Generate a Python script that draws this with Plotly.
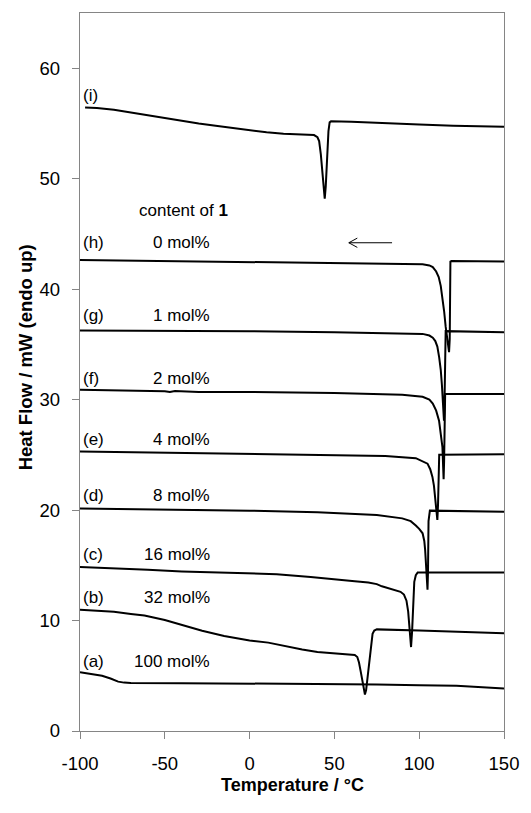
import plotly.graph_objects as go

# ---------------- data ----------------
T_a = [-100, -92, -87, -82, -77.5, -74, -70, -40, 0, 40, 75, 100, 122, 150]
Y_a = [5.33, 5.15, 5.0, 4.75, 4.47, 4.38, 4.35, 4.33, 4.3, 4.28, 4.22, 4.15, 4.1, 3.85]

T_b = [-100, -90, -80, -70, -62, -50, -40, -28, -15, 0, 11, 20, 31, 40, 50, 62, 63.5, 64.5, 65.5,
       66.5, 67.3, 68.0, 68.7, 69.5, 70.5, 71.5, 72.5, 73.5, 75, 100, 125, 150]
Y_b = [10.97, 10.9, 10.8, 10.6, 10.45, 10.05, 9.6, 9.07, 8.6, 8.2, 8.0, 7.7, 7.38, 7.15, 7.0, 6.88, 6.7, 6.2, 5.4,
       4.4, 3.7, 3.3, 3.7, 4.8, 6.5, 8.0, 8.8, 9.1, 9.2, 9.1, 9.0, 8.85]

T_c = [-100, -80, -60, -40, -20, 0, 16, 36, 46, 55, 62, 70, 75, 78, 81, 86, 89, 91, 92.5, 93.5, 94.3,
       95.2, 95.8, 96.4, 97.1, 98, 99.1, 150]
Y_c = [14.85, 14.75, 14.6, 14.45, 14.35, 14.25, 14.2, 13.95, 13.8, 13.6, 13.55, 13.45, 13.3, 13.1, 12.95, 12.75,
       12.6, 12.35, 11.8, 10.8, 9.0, 7.6, 9.0, 11.5, 13.5, 14.1, 14.35, 14.35]

T_d = [-100, -50, 0, 40, 75, 90, 95, 98, 100, 102, 103, 103.5, 104.2, 104.9, 105.2, 105.5, 106.3, 150]
Y_d = [20.15, 20.05, 19.95, 19.8, 19.55, 19.25, 19.0, 18.6, 18.3, 17.9, 17.2, 16.4, 14.5, 12.8, 14.5, 19.0,
       19.95, 19.85]

T_e = [-100, -50, 0, 50, 80, 98, 102, 104.9, 106.5, 107.8, 108.7, 109.3, 110.0, 110.7, 111.1, 111.5, 111.8, 150]
Y_e = [25.3, 25.2, 25.1, 25.0, 24.9, 24.7, 24.45, 24.2, 23.7, 23.0, 22.2, 21.2, 20.0, 19.1, 20.5, 23.5, 25.0, 25.05]

T_f = [-100, -60, -50, -47, -44, -30, -10, 0, 50, 90, 102, 106, 108, 110, 111.7, 112.8, 113.7, 114.1,
       114.4, 114.7, 115.0, 115.3, 150]
Y_f = [30.9, 30.8, 30.75, 30.68, 30.78, 30.7, 30.7, 30.7, 30.6, 30.45, 30.25, 30.0, 29.65, 29.0, 28.1, 27.0,
       25.7, 24.0, 22.8, 24.5, 28.0, 30.5, 30.5]

T_g = [-100, -50, 0, 50, 90, 102, 106, 108, 109.5, 110.7, 111.8, 112.7, 113.4, 114.0, 114.4, 114.6, 114.9,
       115.2, 115.6, 150]
Y_g = [36.25, 36.25, 36.2, 36.1, 36.0, 35.95, 35.8, 35.6, 35.3, 34.8, 33.8, 32.7, 31.3, 30.0, 28.8, 28.1, 29.5,
       33.0, 36.2, 36.1]

T_h = [-100, -50, 0, 50, 90, 102, 106, 108, 110, 111.5, 112.7, 113.7, 114.7, 115.6, 116.5, 117.2, 117.6,
       118.0, 118.2, 118.4, 119, 150]
Y_h = [42.65, 42.55, 42.5, 42.4, 42.3, 42.25, 42.15, 42.0, 41.6, 41.1, 40.3, 39.3, 38.0, 36.6, 35.3, 34.5, 34.3,
       35.5, 39.0, 42.5, 42.55, 42.5]

T_i = [-97, -90, -80, -70, -60, -50, -40, -30, -20, -10, 0, 10, 20, 30, 38, 40, 41, 42, 43, 43.8, 44.3,
       44.9, 45.7, 46.5, 47.2, 48, 60, 80, 100, 120, 150]
Y_i = [56.45, 56.4, 56.25, 56.0, 55.7, 55.45, 55.2, 55.0, 54.8, 54.6, 54.4, 54.2, 54.07, 54.02, 53.95, 53.75,
       53.4, 52.2, 50.1, 48.7, 48.2, 49.3, 52.0, 54.3, 55.1, 55.2, 55.15, 55.0, 54.9, 54.8, 54.7]

curve_letters = ["(a)", "(b)", "(c)", "(d)", "(e)", "(f)", "(g)", "(h)", "(i)"]
letter_y = [6.3, 12.05, 16.0, 21.35, 26.4, 31.95, 37.6, 44.2, 57.5]
content_labels = ["100 mol%", "32 mol%", "16 mol%", "8 mol%", "4 mol%", "2 mol%", "1 mol%", "0 mol%"]

x_ticks = [-100, -50, 0, 50, 100, 150]
x_tick_text = ["-100", "-50", "0", "50", "100", "150"]
y_ticks = [0, 10, 20, 30, 40, 50, 60]

# cooling-direction arrow (T from, T to, level)
arrow_from, arrow_to, arrow_y = 84, 58.5, 44.2

# ---------------- figure ----------------
FONT = "Liberation Sans, Arial, sans-serif"
fig = go.Figure()
series = [(T_a, Y_a), (T_b, Y_b), (T_c, Y_c), (T_d, Y_d), (T_e, Y_e),
          (T_f, Y_f), (T_g, Y_g), (T_h, Y_h), (T_i, Y_i)]
for (tx, ty), name in zip(series, curve_letters):
    fig.add_trace(go.Scatter(x=tx, y=ty, mode="lines", name=name,
                             line=dict(color="black", width=2), showlegend=False,
                             hoverinfo="skip"))

# arrow drawn as thin line with open head
fig.add_trace(go.Scatter(
    x=[arrow_from, arrow_to, None, arrow_to + 5, arrow_to, arrow_to + 5],
    y=[arrow_y, arrow_y, None, arrow_y + 0.42, arrow_y, arrow_y - 0.42],
    mode="lines", line=dict(color="black", width=1), showlegend=False, hoverinfo="skip"))

ann = []
for lab, yy in zip(curve_letters, letter_y):
    ann.append(dict(x=-99.2, y=yy, text=lab, xref="x", yref="y", xanchor="left", yanchor="middle",
                    showarrow=False, font=dict(family=FONT, size=17, color="black")))
for lab, yy in zip(content_labels, letter_y[:8]):
    ann.append(dict(x=-22.3, y=yy, text=lab, xref="x", yref="y", xanchor="right", yanchor="middle",
                    showarrow=False, font=dict(family=FONT, size=17, color="black")))
ann.append(dict(x=-38.8, y=47.1, text="content of <b>1</b>", xref="x", yref="y", xanchor="center",
                yanchor="middle", showarrow=False, font=dict(family=FONT, size=17, color="black")))
ann.append(dict(x=0.5, y=-0.075, xref="paper", yref="paper", text="<b>Temperature / °C</b>",
                showarrow=False, xanchor="center", yanchor="middle",
                font=dict(family=FONT, size=18, color="black")))
ann.append(dict(x=-0.128, y=0.52, xref="paper", yref="paper", text="<b>Heat Flow / mW (endo up)</b>",
                showarrow=False, xanchor="center", yanchor="middle", textangle=-90,
                font=dict(family=FONT, size=18.5, color="black")))

axis_common = dict(showgrid=False, zeroline=False, showline=True, linecolor="#858585", linewidth=1.3,
                   mirror=True, ticks="outside", ticklen=7, tickcolor="#858585", tickwidth=1.3,
                   tickfont=dict(family=FONT, size=18.5, color="black"))
fig.update_layout(
    width=531, height=813,
    margin=dict(l=80, r=22, t=13, b=82),
    paper_bgcolor="white", plot_bgcolor="white",
    xaxis=dict(range=[-100, 150], tickvals=x_ticks, ticktext=x_tick_text, ticklabelstandoff=9,
               **axis_common),
    yaxis=dict(range=[0, 65], tickvals=y_ticks, ticklabelstandoff=8, **axis_common),
    annotations=ann,
)
fig.write_html("out.html")
